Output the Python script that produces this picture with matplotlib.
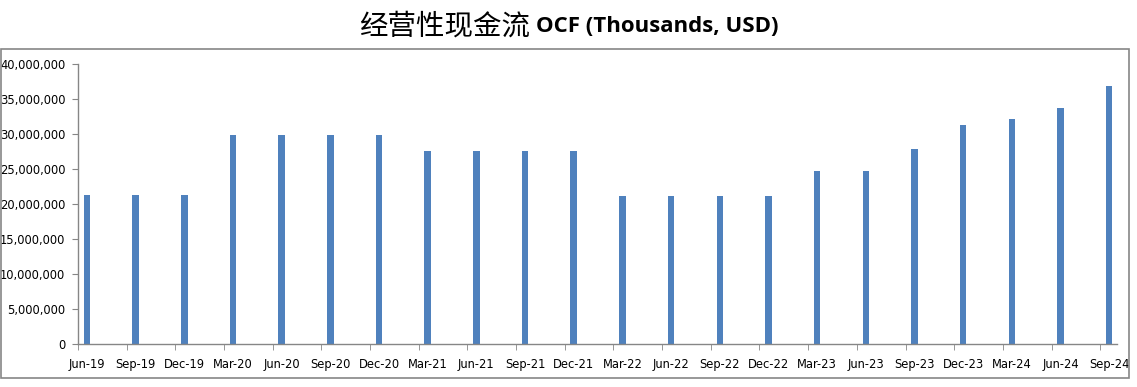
import matplotlib
matplotlib.use("Agg")
import matplotlib.pyplot as plt
import matplotlib.ticker as mticker
from matplotlib.patches import Rectangle
import numpy as np

# quarter labels and operating cash flow values
quarters = ["Jun-19", "Sep-19", "Dec-19", "Mar-20", "Jun-20", "Sep-20", "Dec-20",
            "Mar-21", "Jun-21", "Sep-21", "Dec-21", "Mar-22", "Jun-22", "Sep-22",
            "Dec-22", "Mar-23", "Jun-23", "Sep-23", "Dec-23", "Mar-24", "Jun-24", "Sep-24"]
ocf = [21300000, 21300000, 21300000, 29800000, 29800000, 29800000, 29800000,
       27600000, 27600000, 27600000, 27600000, 21200000, 21200000, 21200000,
       21200000, 24750000, 24750000, 27900000, 31300000, 32200000, 33750000, 36900000]
y_ticks = [0, 5000000, 10000000, 15000000, 20000000, 25000000, 30000000, 35000000, 40000000]

title_cn = "经营性现金流"
title_en = "OCF (Thousands, USD)"

bar_color = "#4F81BD"
axis_color = "#868686"

fig = plt.figure(figsize=(11.37, 3.87), dpi=100)
ax = fig.add_axes([78 / 1137, 43 / 387, (1117 - 78) / 1137, (323 - 43) / 387])

x = np.arange(len(quarters))
ax.bar(x, ocf, width=0.135, color=bar_color)

ax.set_xlim(-0.185, len(quarters) - 1 + 0.16)
ax.set_ylim(0, 40000000)

# labels sit under the bars, tick marks sit a bit to the left
ax.set_xticks(x)
ax.set_xticklabels(quarters)
ax.set_xticks(x - 0.185, minor=True)
ax.tick_params(axis="x", which="major", length=0, pad=10, labelsize=8.3)
ax.tick_params(axis="x", which="minor", length=4, color=axis_color, direction="out")

ax.set_yticks(y_ticks)
ax.yaxis.set_major_formatter(mticker.FuncFormatter(lambda v, p: f"{int(v):,}"))
ax.tick_params(axis="y", length=4, color=axis_color, pad=5, labelsize=8.3)

for side in ["top", "right"]:
    ax.spines[side].set_visible(False)
for side in ["left", "bottom"]:
    ax.spines[side].set_color(axis_color)
    ax.spines[side].set_linewidth(1)

# outer chart border
fig.patches.append(Rectangle((1 / 1137, (387 - 378) / 387), (1129 - 1) / 1137, (378 - 49) / 387,
                             transform=fig.transFigure, fill=False,
                             edgecolor=axis_color, linewidth=1.2))

fig.text(530 / 1137, 1 - 27 / 387, title_cn, ha="right", va="center",
         fontsize=20.5, family=["Noto Sans CJK SC", "DejaVu Sans"])
fig.text(536 / 1137, 1 - 27 / 387, title_en, ha="left", va="center",
         fontsize=16, fontweight="bold", family=["Open Sans", "DejaVu Sans"])

fig.savefig("out.png", dpi=100)
